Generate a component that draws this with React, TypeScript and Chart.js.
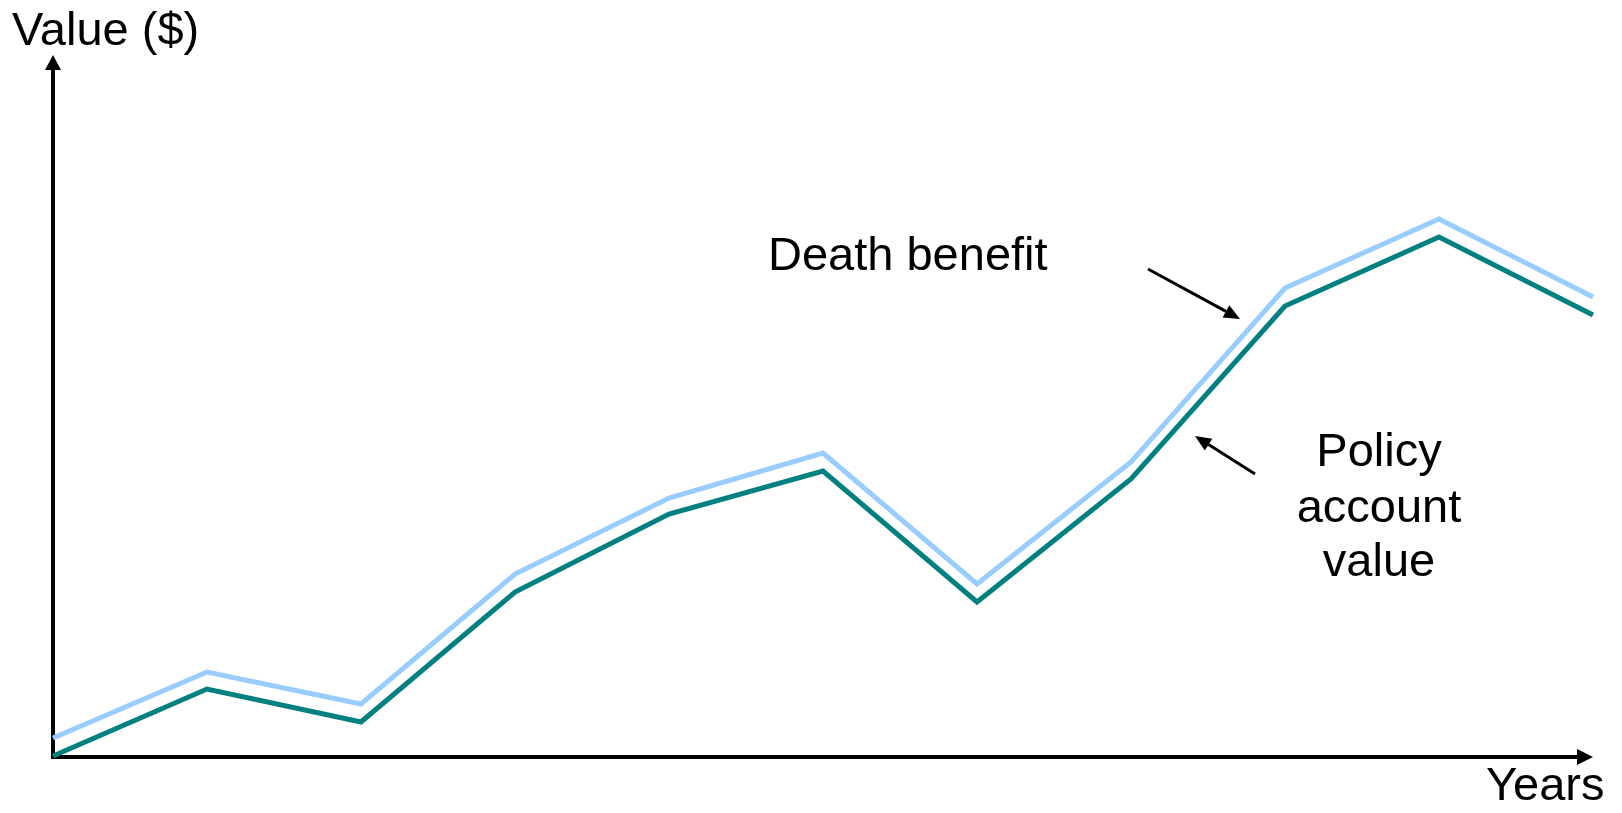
import React, { useEffect, useRef } from "react";
import { Chart, registerables } from "chart.js";

Chart.register(...registerables);

const years = [0, 1, 2, 3, 4, 5, 6, 7, 8, 9, 10];
const accountValue = [1, 68, 35, 165, 243, 286, 155, 278, 451, 520, 442];
const deathBenefit = [19, 85, 53, 183, 259, 304, 173, 295, 469, 538, 460];
const yAxisTitle = "Value ($)";
const xAxisTitle = "Years";
const deathLabel = "Death benefit";
const policyLabel = ["Policy", "account", "value"];

const FONT = '47px "Liberation Sans", Arial, sans-serif';

function arrow(ctx: CanvasRenderingContext2D, x1: number, y1: number, x2: number, y2: number, lw: number, headLen: number, headHalf: number) {
  const ang = Math.atan2(y2 - y1, x2 - x1);
  const bx = x2 - headLen * Math.cos(ang);
  const by = y2 - headLen * Math.sin(ang);
  ctx.save();
  ctx.strokeStyle = "#000";
  ctx.fillStyle = "#000";
  ctx.lineWidth = lw;
  ctx.lineCap = "butt";
  ctx.beginPath();
  ctx.moveTo(x1, y1);
  ctx.lineTo(bx, by);
  ctx.stroke();
  ctx.beginPath();
  ctx.moveTo(x2, y2);
  ctx.lineTo(bx + headHalf * Math.sin(ang), by - headHalf * Math.cos(ang));
  ctx.lineTo(bx - headHalf * Math.sin(ang), by + headHalf * Math.cos(ang));
  ctx.closePath();
  ctx.fill();
  ctx.restore();
}

const decorPlugin = {
  id: "decor",
  beforeDatasetsDraw(chart: any) {
    const ctx = chart.ctx as CanvasRenderingContext2D;
    const xs = chart.scales.x;
    const ys = chart.scales.y;
    const x0 = xs.getPixelForValue(0);
    const y0 = ys.getPixelForValue(0);
    const xEnd = xs.getPixelForValue(10);
    const yTop = ys.getPixelForValue(ys.max);
    // axes
    arrow(ctx, x0, y0 + 2, x0, yTop, 4, 15, 8);
    arrow(ctx, x0 - 2, y0, xEnd, y0, 4, 16, 8);
  },
  afterDatasetsDraw(chart: any) {
    const ctx = chart.ctx as CanvasRenderingContext2D;
    ctx.save();
    ctx.fillStyle = "#000";
    ctx.font = FONT;
    ctx.textBaseline = "alphabetic";
    ctx.textAlign = "left";
    ctx.fillText(yAxisTitle, 12, 45);
    ctx.fillText(xAxisTitle, 1486, 800);
    ctx.fillText(deathLabel, 768, 270);
    ctx.textAlign = "center";
    const base = [466, 522, 576];
    policyLabel.forEach((t, i) => ctx.fillText(t, 1379, base[i]));
    ctx.restore();
    arrow(ctx, 1148, 269, 1240, 319, 3, 16, 7);
    arrow(ctx, 1255, 474, 1195, 436, 3, 16, 7);
  },
};

export default function App() {
  const ref = useRef<HTMLCanvasElement>(null);
  useEffect(() => {
    document.body.style.margin = "0";
    const chart = new Chart(ref.current!, {
      type: "line",
      data: {
        labels: years,
        datasets: [
          {
            label: deathLabel,
            data: years.map((x, i) => ({ x, y: deathBenefit[i] })),
            borderColor: "#99CCFF",
            borderWidth: 5,
            pointRadius: 0,
            tension: 0,
            clip: false as any,
            borderJoinStyle: "miter",
          },
          {
            label: "Policy account value",
            data: years.map((x, i) => ({ x, y: accountValue[i] })),
            borderColor: "#008080",
            borderWidth: 5,
            pointRadius: 0,
            tension: 0,
            clip: false as any,
            borderJoinStyle: "miter",
          },
        ],
      },
      options: {
        animation: false,
        responsive: false,
        maintainAspectRatio: false,
        layout: { padding: { left: 53, right: 29, top: 55, bottom: 56 } },
        plugins: { legend: { display: false }, tooltip: { enabled: false } },
        scales: {
          x: { type: "linear", min: 0, max: 10, display: false },
          y: { min: 0, max: 702, display: false },
        },
      },
      plugins: [decorPlugin],
    });
    return () => chart.destroy();
  }, []);
  return (
    <div style={{ width: 1622, height: 813, overflow: "hidden", background: "#fff" }}>
      <canvas ref={ref} width={1622} height={813} style={{ display: "block" }} />
    </div>
  );
}
